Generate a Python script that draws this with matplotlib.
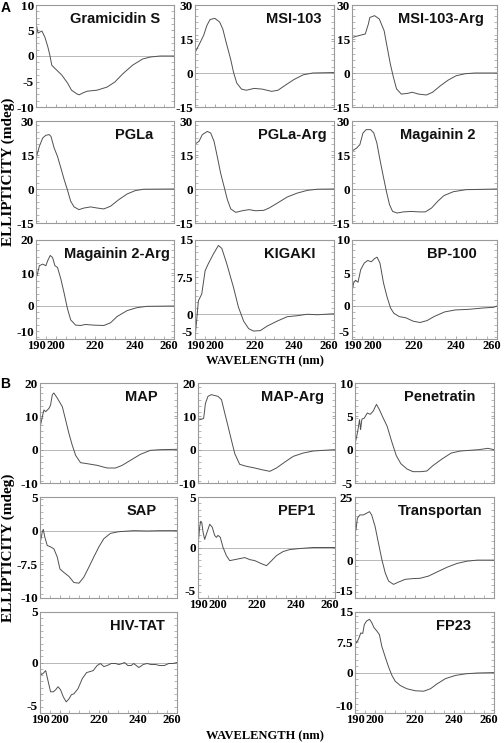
import numpy as np
import matplotlib
matplotlib.use('Agg')
import matplotlib.pyplot as plt
import matplotlib.transforms as mtransforms
from matplotlib.ticker import MultipleLocator

plt.rcParams['font.family'] = ['Liberation Serif', 'DejaVu Serif']
plt.rcParams['font.weight'] = 'bold'

# ---- data (wavelength nm, ellipticity mdeg) ----
gram_wl = [190, 191, 193, 194.5, 196, 197, 198, 199.5, 203, 206, 208, 211, 212, 214, 216, 221, 226, 230, 234, 239, 244, 248, 253, 260]
gram_cd = [6.5, 4.5, 4.9, 3.7, 1.8, 0.2, -1.8, -2.4, -3.7, -5.3, -6.7, -7.5, -7.6, -7.2, -6.9, -6.7, -6.1, -5.1, -3.5, -1.8, -0.6, -0.2, 0, 0]

msi_wl = [190.5, 192.8, 194.4, 196, 197.6, 200, 202.4, 204, 205.6, 208, 209.4, 211, 213.4, 215.8, 219.8, 223.8, 228.6, 231.8, 235.8, 239.8, 244.5, 249.3, 260]
msi_cd = [9.8, 13.8, 16.7, 21, 23.6, 24.1, 22.5, 19.4, 13.8, 5.9, 0.3, -4.4, -7.1, -7.6, -6.8, -7.1, -8.1, -7.6, -5.2, -2.9, -0.8, 0, 0.2]

msiarg_wl = [190.3, 193.3, 196.4, 197.9, 198.6, 200.9, 203.2, 205.5, 207, 208.5, 210, 211.5, 213.8, 216.8, 219.1, 222.1, 225.9, 228.9, 232.7, 236.5, 240.3, 244.8, 249.4, 260]
msiarg_cd = [15.7, 16.5, 17.2, 21.6, 24.5, 25.3, 23.8, 18.7, 11.3, 4, -1.9, -7, -9.3, -9, -8.5, -9.3, -9.7, -8.5, -5.6, -3.1, -1.2, -0.3, 0, 0]

pgla_wl = [190.3, 191.7, 193.4, 195, 196.7, 197.6, 199.2, 200.9, 202.6, 204.3, 205.9, 207.6, 209.3, 211.8, 214.3, 217.7, 221.1, 224.4, 227.8, 232, 236.2, 240.4, 244.6, 260]
pgla_cd = [14.4, 18.8, 22.5, 23.7, 24, 23.2, 18.1, 14.4, 9.3, 4.1, -0.3, -5.4, -7.9, -9.1, -8.4, -7.9, -8.4, -8.8, -7.6, -4.7, -2.2, -0.7, -0.1, 0]

pglaarg_wl = [190.3, 192, 193.7, 196.2, 197.9, 199.6, 201.2, 202.9, 204.6, 206.3, 208, 210.5, 213.8, 217.2, 220.6, 224.7, 227.3, 231.5, 236.5, 241.5, 246.6, 251.6, 260]
pglaarg_cd = [20, 21, 24, 25.4, 24.7, 21, 14.4, 7, 1.2, -4.7, -8.8, -10.3, -9.6, -9.1, -9.6, -9.4, -8.4, -6.2, -3.5, -1.8, -0.6, -0.1, 0]

mag_wl = [190.3, 192.3, 193.8, 195.3, 196.8, 199, 200.5, 202, 203.5, 205.1, 206.6, 208.1, 209.6, 211.8, 214.8, 218.6, 222.4, 225.4, 228.4, 231.4, 234.4, 238.9, 245, 260]
mag_cd = [16.9, 18.1, 19.6, 24.7, 26.2, 26.2, 24.7, 20.3, 12.9, 5.6, -1, -6.9, -9.9, -10.6, -10.1, -9.9, -10.1, -10.1, -8.4, -5.4, -2.9, -1.2, -0.3, 0]

magarg_wl = [190.5, 191.7, 193.4, 195, 195.9, 197.2, 198.4, 199.6, 200.9, 202.6, 204.3, 205.9, 207.6, 210.1, 212.7, 215, 219.4, 224.4, 227.8, 231.1, 236.2, 241.2, 246.2, 260]
magarg_cd = [9.2, 12.2, 12.7, 12.2, 13.7, 15.3, 14.7, 12.2, 11.7, 8.2, 3.8, -0.7, -4.2, -5.8, -5.9, -5.6, -5.8, -5.9, -5.1, -3.2, -1.4, -0.5, -0.1, 0]

kigaki_wl = [190, 190.8, 191.7, 193.4, 195.1, 196.7, 199.3, 201.8, 203.5, 206, 209.4, 211.9, 214.5, 217, 219.5, 222.9, 226.3, 231.3, 236.4, 241.4, 246.5, 251.6, 260]
kigaki_cd = [-4.8, -1.4, 2.7, 4.1, 8.8, 10.2, 12.2, 13.9, 13.3, 10.2, 5.4, 1.4, -1.4, -2.9, -3.4, -3.3, -2.4, -1.4, -0.5, -0.3, 0, -0.1, 0.1]

bp_wl = [190, 190.8, 191.7, 192.9, 194.2, 195.9, 197.6, 199.3, 201, 202.1, 203.5, 205.2, 206.9, 208.6, 210.2, 212.8, 216.1, 219.5, 222.9, 226.3, 229.6, 234.7, 239.8, 246.5, 253.3, 258.3, 260]
bp_cd = [2.1, 3.5, 3.9, 3.6, 5.5, 6.5, 6.9, 6.7, 7.2, 7.4, 6.5, 3.5, 1.4, -0.3, -1.1, -1.6, -1.8, -2.3, -2.5, -2.2, -1.6, -0.9, -0.6, -0.5, -0.3, -0.2, 0]

map_wl = [190.3, 191.2, 192, 192.9, 194.6, 195.4, 196.3, 197.1, 198.8, 201.4, 203.1, 204.8, 206.5, 208.2, 210.7, 214.1, 219.2, 224.3, 228.6, 232, 236.2, 241.3, 246.4, 251.5, 260]
map_cd = [7.4, 9.9, 11.9, 11.4, 12.4, 13.4, 16.5, 17, 15.5, 12.9, 8.9, 4.8, 1.3, -1.7, -3.9, -4.2, -4.7, -5.5, -5.5, -4.7, -3.2, -1.4, -0.2, 0, 0.1]

maparg_wl = [190.3, 191.7, 192.9, 193.8, 195.1, 196.8, 200.2, 202, 203.7, 205.4, 207.1, 208.8, 211.3, 214.8, 219, 223.3, 226.7, 230.1, 234.4, 238.7, 243.8, 248.9, 254, 260]
maparg_cd = [8.9, 9.1, 9.4, 13.9, 16, 16.5, 16, 15, 10.9, 6.9, 2.8, -1.2, -4.4, -5, -5.5, -6.1, -6.5, -5.5, -3.7, -2, -1, -0.4, -0.2, 0]

pen_wl = [190, 190.8, 191.5, 192.3, 192.8, 193.5, 194.6, 196.2, 197.7, 199.2, 200.8, 202.3, 203.8, 206.2, 208.5, 210.8, 213.1, 216.2, 219.2, 223.1, 226.2, 229.2, 233.8, 238.5, 243.1, 247.7, 252.3, 256.9, 260]
pen_cd = [0.9, 1.9, 3, 4.5, 3, 4.6, 4.7, 5.5, 5.3, 5.8, 6.8, 6, 5, 3.5, 1.2, -0.9, -2.1, -2.9, -3.3, -3.3, -3.2, -2.4, -1.4, -0.5, -0.2, -0.1, 0, 0.2, 0]

sap_wl = [190, 190.7, 191.2, 191.7, 192.4, 193.7, 195.4, 197.1, 198.8, 200.2, 202.2, 204.8, 207.3, 209.9, 212.4, 215, 217.5, 220.1, 222.6, 226, 230.3, 237.9, 244.7, 251.5, 260]
sap_cd = [-1.9, -0.9, -0.15, 0.2, -0.9, -2.2, -2.4, -2.7, -3.9, -5.7, -6.2, -6.8, -7.7, -7.8, -6.9, -5.4, -3.9, -2.4, -1.2, -0.4, -0.15, 0, -0.05, 0, 0]

pep_wl = [190.3, 190.9, 191.4, 191.9, 192.6, 193.4, 194.6, 196, 197.3, 198.5, 199.4, 200.2, 201.4, 202.8, 204.5, 206.2, 208.8, 211.3, 213.9, 216.5, 219, 222.4, 225, 227.6, 230.1, 233.5, 237, 242.1, 248.9, 260]
pep_cd = [0.8, 2.1, 2.6, 2.5, 1.5, 0.8, 1.5, 2.3, 2, 1.2, 1, 1.2, 1, 0, -0.8, -1.3, -1.2, -1.1, -1, -1.2, -1.3, -1.6, -1.8, -1.3, -0.8, -0.4, -0.2, -0.1, 0, 0]

trans_wl = [190.5, 191.2, 192.5, 194.2, 195.9, 197.3, 198.4, 200.1, 201.8, 203.5, 205.2, 206.9, 209.4, 211.9, 215.3, 219.5, 222.7, 227.1, 231.3, 236.4, 241.4, 246.5, 251.6, 260]
trans_cd = [12, 16.6, 17.9, 17.9, 18.6, 19.2, 17.9, 13.4, 6.8, 0.3, -5, -8.3, -9.6, -8.7, -7.6, -7.3, -7.2, -6.3, -4.7, -2.8, -1.3, -0.4, 0, 0]

tat_wl = [190, 190.7, 191.5, 192.9, 194.2, 195.4, 196.8, 198, 199.2, 200.5, 201.9, 203.4, 204.8, 206, 207.3, 209.4, 211.6, 213.8, 215.5, 217.2, 219.2, 220.9, 222.6, 224.3, 226.4, 228.6, 230.3, 232, 233.2, 234.9, 236.6, 237.9, 240.5, 242.7, 244.7, 246.8, 249, 251.2, 253.5, 255.8, 257.9, 260]
tat_cd = [-0.8, -1.2, -1.1, -0.8, -1.9, -2.9, -2.9, -2.7, -2.4, -2.7, -3.4, -3.9, -3.6, -3.2, -3.1, -2.6, -1.6, -1, -0.9, -0.8, -0.3, -0.1, -0.4, -0.3, -0.1, -0.1, -0.2, -0.1, 0, -0.3, -0.3, -0.1, -0.5, -0.2, -0.1, -0.2, -0.2, -0.3, -0.3, -0.1, -0.1, 0]

fp_wl = [190.5, 191.7, 192.9, 193.9, 194.7, 195.9, 197.3, 198.4, 199.6, 201, 202.3, 203.5, 205.2, 206.9, 208.6, 210.2, 212.8, 216.1, 220.4, 224.6, 228, 231.3, 235.5, 240.6, 245.7, 251.6, 260]
fp_cd = [7.3, 8.2, 9.8, 9.7, 11.9, 12.8, 13.2, 12.4, 11.1, 10.3, 9.4, 6.5, 3.9, 1.4, -0.7, -2.1, -3.2, -4, -4.5, -4.6, -4, -2.8, -1.5, -0.7, -0.3, -0.1, 0]

x_ticks = [190, 200, 220, 240, 260]

W, H = 504, 743
fig = plt.figure(figsize=(W / 100, H / 100), dpi=100)


def box(l, r, t, b):
    return [l / W, 1 - b / H, (r - l) / W, (b - t) / H]


colsA = [(36, 174), (195, 334), (352, 497)]
rowsA = [(5, 107), (121, 223), (240, 339)]
colsB = [(40, 177), (198, 335), (355, 494)]
rowsB = [(383, 483), (497, 598), (612, 713)]

# name, x, y, ylim, yticks, yticklabels, col, row, title position, x labels
panels = [
    ('Gramicidin S', gram_wl, gram_cd, (-10, 10), [-10, -5, 0, 5, 10], None, colsA[0], rowsA[0], 0.57, False),
    ('MSI-103', msi_wl, msi_cd, (-15, 30), [-15, 0, 15, 30], None, colsA[1], rowsA[0], 0.71, False),
    ('MSI-103-Arg', msiarg_wl, msiarg_cd, (-15, 30), [-15, 0, 15, 30], None, colsA[2], rowsA[0], 0.61, False),
    ('PGLa', pgla_wl, pgla_cd, (-15, 30), [-15, 0, 15, 30], None, colsA[0], rowsA[1], 0.71, False),
    ('PGLa-Arg', pglaarg_wl, pglaarg_cd, (-15, 30), [-15, 0, 15, 30], None, colsA[1], rowsA[1], 0.70, False),
    ('Magainin 2', mag_wl, mag_cd, (-15, 30), [-15, 0, 15, 30], None, colsA[2], rowsA[1], 0.59, False),
    ('Magainin 2-Arg', magarg_wl, magarg_cd, (-10, 20), [-10, 0, 10, 20], None, colsA[0], rowsA[2], 0.59, True),
    ('KIGAKI', kigaki_wl, kigaki_cd, (-5, 15), [-5, 0, 7.5, 15], ['-5', '0', '7.5', '15'], colsA[1], rowsA[2], 0.68, True),
    ('BP-100', bp_wl, bp_cd, (-5, 10), [-5, 0, 5, 10], None, colsA[2], rowsA[2], 0.69, True),
    ('MAP', map_wl, map_cd, (-10, 20), [-10, 0, 10, 20], None, colsB[0], rowsB[0], 0.74, False),
    ('MAP-Arg', maparg_wl, maparg_cd, (-10, 20), [-10, 0, 10, 20], None, colsB[1], rowsB[0], 0.69, False),
    ('Penetratin', pen_wl, pen_cd, (-5, 10), [-5, 0, 5, 10], None, colsB[2], rowsB[0], 0.61, False),
    ('SAP', sap_wl, sap_cd, (-10, 5), [-10, -5, 0, 5], ['-10', '-7.5', '0', '5'], colsB[0], rowsB[1], 0.74, False),
    ('PEP1', pep_wl, pep_cd, (-5, 5), [-5, 0, 5], None, colsB[1], rowsB[1], 0.72, True),
    ('Transportan', trans_wl, trans_cd, (-15, 25), [-15, 0, 25], None, colsB[2], rowsB[1], 0.61, False),
    ('HIV-TAT', tat_wl, tat_cd, (-5, 5), [-5, 0, 5], None, colsB[0], rowsB[2], 0.71, True),
    ('FP23', fp_wl, fp_cd, (-10, 15), [-10, 0, 7.5, 15], ['-10', '0', '7.5', '15'], colsB[2], rowsB[2], 0.71, True),
]

# panels whose lowest y label would collide with a neighbour's x labels
raise_low_label = {'Transportan'}

nudge_left = mtransforms.ScaledTranslation(-5 / 100, 0, fig.dpi_scale_trans)

for name, xs, ys, ylim, yt, ytl, col, row, tx, showx in panels:
    ax = fig.add_axes(box(col[0], col[1], row[0], row[1]))
    ax.axhline(0, color='#b8b8b8', lw=0.7, zorder=1)
    ax.plot(xs, ys, color='#505050', lw=0.7, zorder=2)
    ax.set_xlim(190, 260)
    ax.set_ylim(*ylim)
    ax.set_xticks(x_ticks)
    ax.xaxis.set_minor_locator(MultipleLocator(5))
    ax.set_yticks(yt)
    ax.set_yticklabels(ytl if ytl else [str(v) for v in yt])
    ax.yaxis.set_minor_locator(MultipleLocator((ylim[1] - ylim[0]) / 16))
    for s in ax.spines.values():
        s.set_color('#9a9a9a')
        s.set_linewidth(0.8)
    ax.tick_params(which='both', direction='in', color='#9a9a9a', right=True, top=False, pad=1.5)
    ax.tick_params(axis='y', labelsize=9.5)
    ax.tick_params(axis='x', labelsize=9, pad=1)
    ax.tick_params(which='major', length=2.5, width=0.6)
    ax.tick_params(which='minor', length=2, width=0.5)
    if showx:
        last = ax.get_xticklabels()[-1]
        last.set_transform(last.get_transform() + nudge_left)
    else:
        ax.set_xticklabels([])
    if showx or name in raise_low_label:
        # lowest value label sits just above the bottom edge, clear of the x labels
        ax.get_yticklabels()[0].set_verticalalignment('bottom')
    ax.text(tx, 0.93, name, transform=ax.transAxes, ha='center', va='top',
            fontsize=10.5, fontweight='bold', family=['Liberation Sans', 'DejaVu Sans'],
            color='#111111')

fig.text(6 / W, 1 - 8 / H, 'A', fontsize=10, fontweight='bold',
         family=['Liberation Sans', 'DejaVu Sans'], ha='center', va='center')
fig.text(5 / W, 1 - 384 / H, 'B', fontsize=10, fontweight='bold',
         family=['Liberation Sans', 'DejaVu Sans'], ha='center', va='center')

fig.text(8 / W, 1 - 172 / H, 'ELLIPTICITY (mdeg)', rotation=90, fontsize=11,
         ha='center', va='center')
fig.text(8 / W, 1 - 548 / H, 'ELLIPTICITY (mdeg)', rotation=90, fontsize=11,
         ha='center', va='center')
fig.text(265 / W, 1 - 361 / H, 'WAVELENGTH (nm)', fontsize=9, ha='center', va='center')
fig.text(265 / W, 1 - 736 / H, 'WAVELENGTH (nm)', fontsize=9, ha='center', va='center')

fig.savefig('out.png', dpi=100)
